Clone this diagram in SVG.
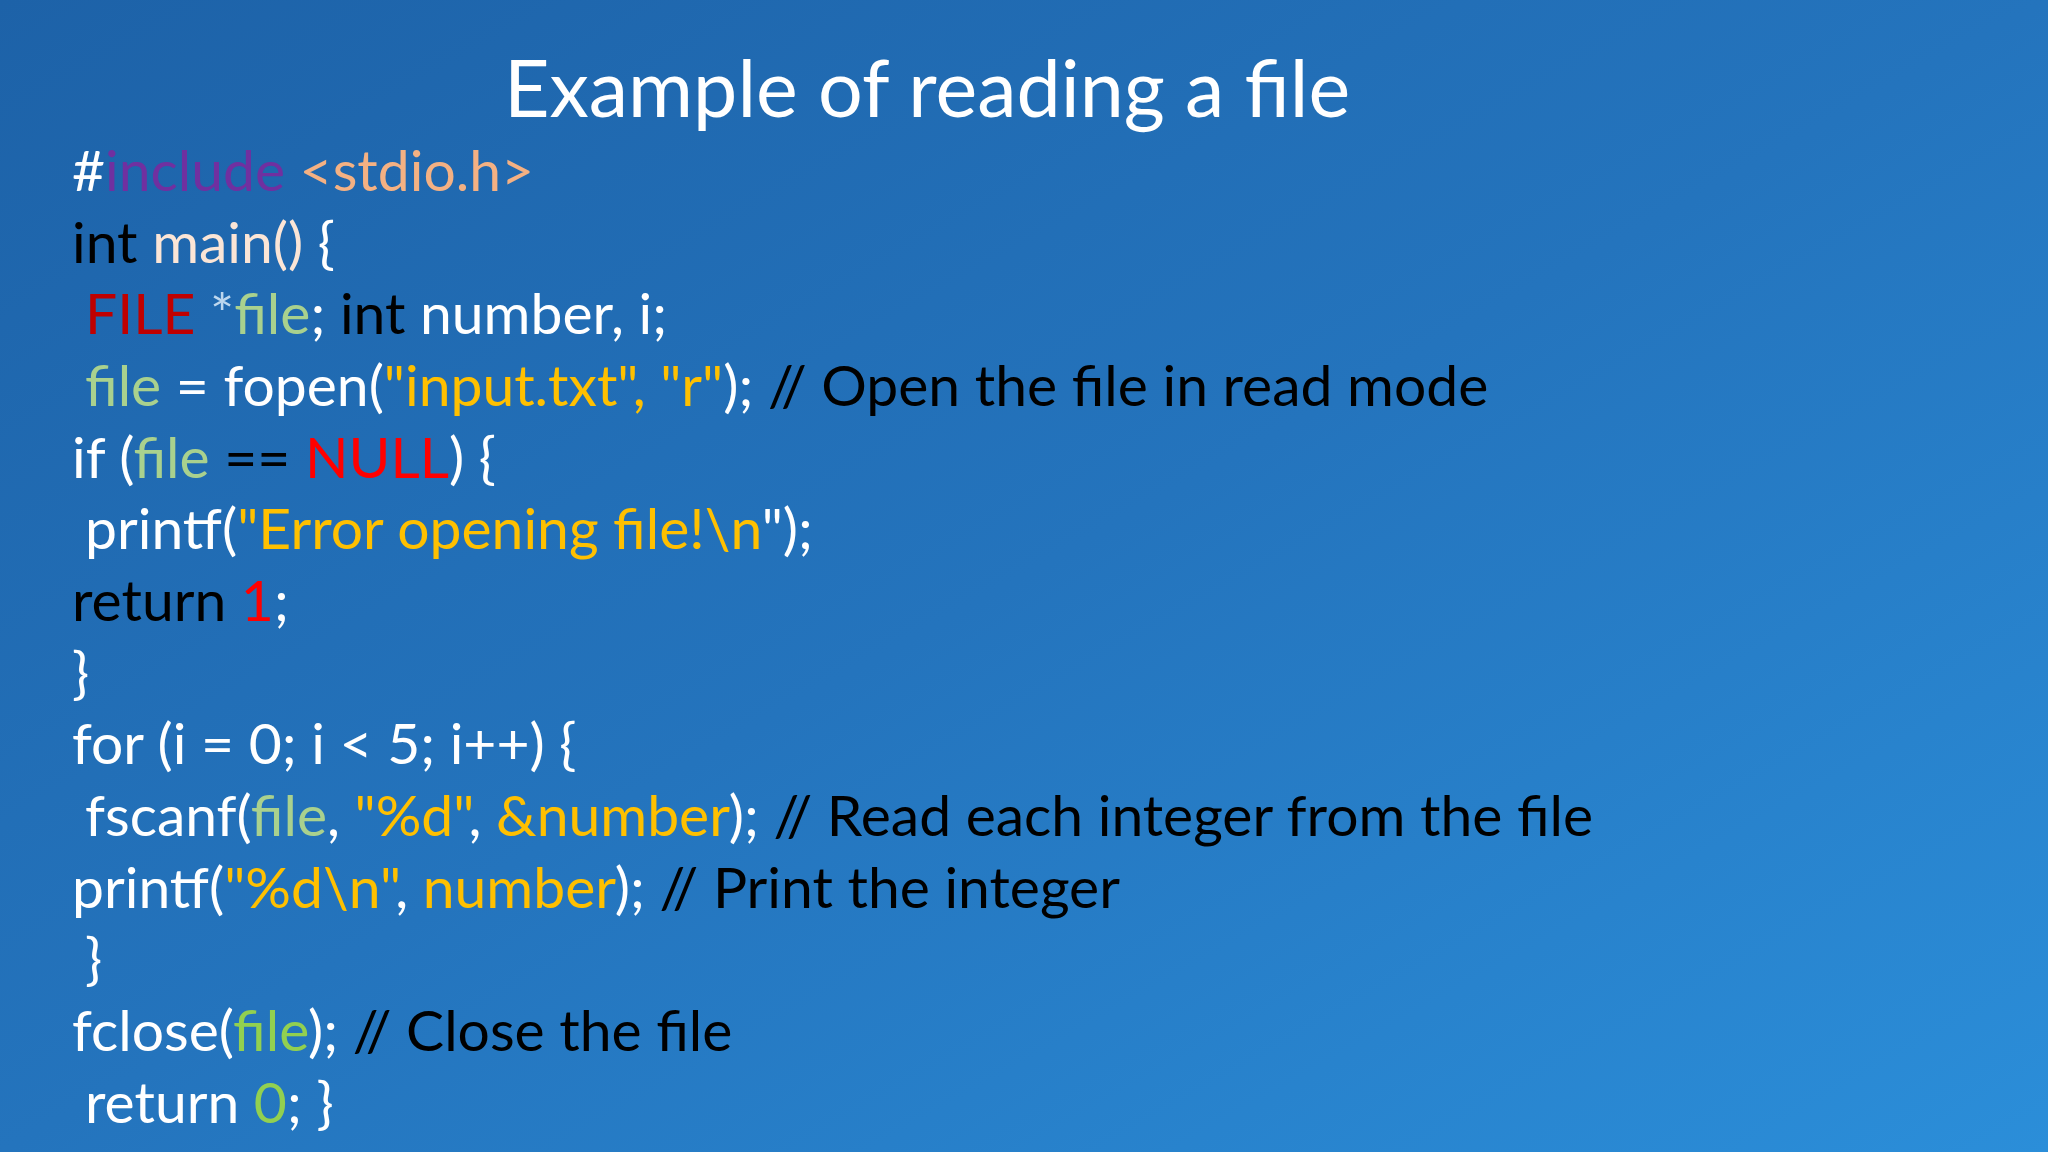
<svg xmlns="http://www.w3.org/2000/svg" width="2048" height="1152" viewBox="0 0 2048 1152">
<defs>
<linearGradient id="bg" x1="0" y1="0" x2="1" y2="1">
<stop offset="0" stop-color="#1d62a8"/>
<stop offset="0.5" stop-color="#2474bd"/>
<stop offset="1" stop-color="#2b8ed9"/>
</linearGradient>
<style>
text{font-family:Lato,"Liberation Sans",sans-serif;fill:#fff}
.code{font-size:57px}
.k{fill:#000}.pu{fill:#7030a0}.pe{fill:#f4b183}.mn{fill:#fbe5d6}
.dr{fill:#c00000}.r{fill:#ff0000}.g{fill:#a9d18e}.y{fill:#ffc000}.lg{fill:#92d050}.st{fill:#bdd7ee}
</style>
</defs>
<rect width="2048" height="1152" fill="url(#bg)"/>
<text id="title" x="927" y="117" font-size="79" text-anchor="middle">Example of reading a file</text>
<g id="code">
<text class="code" x="72" y="191">#<tspan class="pu">include</tspan> <tspan class="pe">&lt;stdio.h&gt;</tspan></text>
<text class="code" x="72" y="263"><tspan class="k">int</tspan> <tspan class="mn">main()</tspan> {</text>
<text class="code" x="85" y="334"><tspan class="dr">FILE</tspan> <tspan class="st">*</tspan><tspan class="g">file</tspan>; <tspan class="k">int</tspan> number, i;</text>
<text class="code" x="85" y="406"><tspan class="g">file</tspan> = fopen(<tspan class="y">"input.txt", "r"</tspan>); <tspan class="k">// Open the file in read mode</tspan></text>
<text class="code" x="72" y="478">if (<tspan class="g">file</tspan> <tspan class="k">==</tspan> <tspan class="r">NULL</tspan>) {</text>
<text class="code" x="85" y="549">printf(<tspan class="y">"Error opening file!\n</tspan>");</text>
<text class="code" x="72" y="621"><tspan class="k">return</tspan> <tspan class="r">1</tspan>;</text>
<text class="code" x="72" y="693">}</text>
<text class="code" x="72" y="764">for (i = 0; i &lt; 5; i++) {</text>
<text class="code" x="85" y="836">fscanf(<tspan class="g">file</tspan>, <tspan class="y">"%d"</tspan>, <tspan class="y">&amp;number</tspan>); <tspan class="k">// Read each integer from the file</tspan></text>
<text class="code" x="72" y="908">printf(<tspan class="y">"%d\n"</tspan>, <tspan class="y">number</tspan>); <tspan class="k">// Print the integer</tspan></text>
<text class="code" x="85" y="979">}</text>
<text class="code" x="72" y="1051">fclose(<tspan class="lg">file</tspan>); <tspan class="k">// Close the file</tspan></text>
<text class="code" x="85" y="1123">return <tspan class="lg">0</tspan>; }</text>
</g>
</svg>
